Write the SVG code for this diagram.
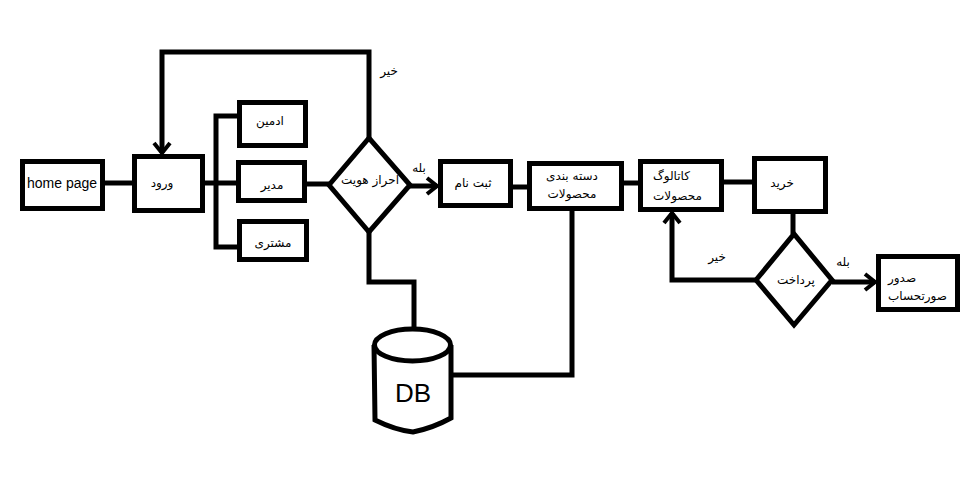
<svg xmlns="http://www.w3.org/2000/svg" width="969" height="480" viewBox="0 0 969 480">
<defs>
<style>
.box{fill:#fff;stroke:#000;stroke-width:5}
.ln{fill:none;stroke:#000;stroke-width:5}
.fa{font-family:"DejaVu Sans",sans-serif;font-size:12px;fill:#000}
.en{font-family:"Liberation Sans",Arial,sans-serif;font-size:14px;fill:#000}
.m{text-anchor:middle}
</style>
<marker id="arr" markerUnits="userSpaceOnUse" viewBox="-14 -10 16 20" markerWidth="16" markerHeight="20" refX="0" refY="0" orient="auto">
<path d="M-10,-8 L0,0 L-10,8" fill="none" stroke="#000" stroke-width="4"/>
</marker>
</defs>
<rect width="969" height="480" fill="#fff"/>
<g id="connectors">
<path class="ln" d="M105,183 H132"/>
<path class="ln" d="M205,183 H238"/>
<path class="ln" d="M238,116 H216 V247 H238"/>
<path class="ln" d="M307,184 H329"/>
<path class="ln" d="M410,186 H437" marker-end="url(#arr)"/>
<path class="ln" d="M369,138 V52 H162 V153" marker-end="url(#arr)"/>
<path class="ln" d="M369,232 V282 H414 V329"/>
<path class="ln" d="M453,375 H572 V211"/>
<path class="ln" d="M513,187 H527"/>
<path class="ln" d="M624,183 H638"/>
<path class="ln" d="M724,182 H752"/>
<path class="ln" d="M793,214 V234"/>
<path class="ln" d="M756,280 H672 V213" marker-end="url(#arr)"/>
<path class="ln" d="M832,282 H875" marker-end="url(#arr)"/>
<text class="fa m" x="389" y="75">خیر</text>
<text class="fa m" x="419" y="172">بله</text>
<text class="fa m" x="717" y="261">خیر</text>
<text class="fa m" x="843" y="266">بله</text>
</g>
<g id="home"><rect class="box" x="22.5" y="161.5" width="80" height="47"/><text class="en m" x="62" y="188">home page</text></g>
<g id="login"><rect class="box" x="134.5" y="156.5" width="68" height="54"/><text class="fa m" x="162" y="187">ورود</text></g>
<g id="admin"><rect class="box" x="239.5" y="102.5" width="66" height="43"/><text class="fa m" x="270" y="125">ادمین</text></g>
<g id="manager"><rect class="box" x="238.5" y="162.5" width="66" height="38"/><text class="fa m" x="272" y="189">مدیر</text></g>
<g id="customer"><rect class="box" x="239.5" y="221.5" width="67" height="38"/><text class="fa m" x="273" y="247">مشتری</text></g>
<g id="auth"><polygon class="box" points="329,185 369,138 410,185 369,232"/><text class="fa m" x="370" y="184">احراز هویت</text></g>
<g id="register"><rect class="box" x="440.5" y="161.5" width="70" height="44"/><text class="fa m" x="473" y="187">ثبت نام</text></g>
<g id="category"><rect class="box" x="529.5" y="163.5" width="92" height="45"/><text class="fa m" x="572" y="180">دسته بندی</text><text class="fa m" x="572" y="198">محصولات</text></g>
<g id="catalog"><rect class="box" x="640.5" y="161.5" width="81" height="48"/><text class="fa" x="653" y="180">کاتالوگ</text><text class="fa" x="653" y="200">محصولات</text></g>
<g id="buy"><rect class="box" x="754.5" y="158.5" width="71" height="53"/><text class="fa m" x="782" y="187">خرید</text></g>
<g id="pay"><polygon class="box" points="756,280 794,234 832,280 794,325"/><text class="fa m" x="796" y="284">پرداخت</text></g>
<g id="invoice"><rect class="box" x="878.5" y="256.5" width="79" height="53"/><text class="fa" x="888" y="282">صدور</text><text class="fa" x="888" y="300">صورتحساب</text></g>
<g id="db"><path class="box" d="M374,345 L375,420 Q395,430 413,432 Q433,428 451,418 L451,345"/><ellipse class="box" cx="412.5" cy="345" rx="38" ry="16"/><text class="en m" x="413" y="402" style="font-size:26px">DB</text></g>
</svg>
